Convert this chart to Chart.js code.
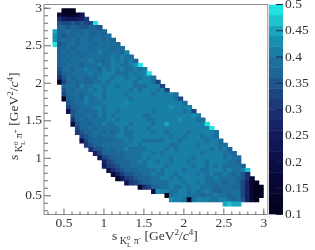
<!DOCTYPE html>
<html>
<head>
<meta charset="utf-8">
<script src="https://cdn.jsdelivr.net/npm/chart.js@4"></script>
<style>
    html, body { margin: 0; padding: 0; background: #fff; }
    #wrap { position: relative; width: 315px; height: 250px; overflow: hidden; }
    canvas { position: absolute; top: -20px; }
    .title { position: absolute; font: 13.5px "Liberation Serif", serif; color: #333; white-space: nowrap; line-height: 14px; }
    #yTitle { transform-origin: 0 0; transform: rotate(-90deg); }
    .s1 { font-size: 10px; position: relative; top: 4px; }
    .s2 { font-size: 7px; position: relative; }
    .up { top: -4px; }
    .dn { top: 3px; margin-left: -3.5px; }
    .sq { font-size: 9px; position: relative; top: -5px; }
</style>
</head>
<body>
<div id="wrap">
    <canvas id="dalitz" width="315" height="270" style="left:0"></canvas>
    <canvas id="zbar" width="53" height="270" style="left:262px"></canvas>
    <div class="title" id="xTitle" style="left:112px;top:229px">s<span class="s1">&nbsp;K<span class="s2 up">0</span><span class="s2 dn">L</span>&nbsp;π<span class="s2 up">-</span></span> [GeV<span class="sq">2</span>/<i>c</i><span class="sq">4</span>]</div>
    <div class="title" id="yTitle" style="left:7px;top:160px">s<span class="s1">&nbsp;K<span class="s2 up">0</span><span class="s2 dn">L</span>&nbsp;π<span class="s2 up">+</span></span> [GeV<span class="sq">2</span>/<i>c</i><span class="sq">4</span>]</div>
</div>
<script>
const binStart = 0.25;
const binWidth = 0.056;
const numBins = 50;

const tickValues = [0.5, 1, 1.5, 2, 2.5, 3];
const minorTicks = [0.3, 0.4, 0.6, 0.7, 0.8, 0.9, 1.1, 1.2, 1.3, 1.4, 1.6, 1.7, 1.8, 1.9, 2.1, 2.2, 2.3, 2.4, 2.6, 2.7, 2.8, 2.9, 3.0];
const zTicks = [0.1, 0.15, 0.2, 0.25, 0.3, 0.35, 0.4, 0.45, 0.5];

// 20 levels of the colour bar, bottom to top
const zLevels = [0.1, 0.12, 0.14, 0.16, 0.18, 0.2, 0.22, 0.24, 0.26, 0.28, 0.3, 0.32, 0.34, 0.36, 0.38, 0.4, 0.42, 0.44, 0.46, 0.48];
const zColors = ['#03031f', '#050527', '#06062f', '#080838', '#0a0b41', '#0c0f4a', '#0f1453', '#131a5c', '#172266', '#1a2e70',
    '#1c3a78', '#1d4680', '#1e558c', '#1c6596', '#1c6f9d', '#1a7fa6', '#1790b0', '#17a6bd', '#1bc4cf', '#1fe3e1'];

// first x bin of each row, top row first
const rowFirstBin = [4, 3, 3, 3, 3, 2, 2, 2, 2, 3, 3, 3, 3, 3, 3, 3, 3, 3, 4, 4, 4, 4, 5, 5, 5, 6, 6, 6, 7, 7, 8, 8, 9, 10, 11, 12, 13, 13, 14, 15, 16, 18, 21, 24, 27, 28, 40];

// estimated bin contents x100, same rows
const rowValues = [
    [10, 10, 10],
    [18, 14, 12, 12, 16, 22],
    [28, 25, 22, 22, 24, 26, 30],
    [35, 33, 33, 34, 32, 34, 33, 33, 49],
    [37, 37, 35, 37, 37, 35, 35, 37, 37, 35],
    [45, 37, 37, 39, 37, 37, 37, 39, 37, 37, 37, 37],
    [43, 37, 35, 37, 37, 39, 37, 39, 37, 37, 39, 37, 39],
    [43, 37, 39, 37, 39, 37, 39, 39, 37, 39, 39, 37, 39, 37],
    [49, 35, 37, 39, 39, 37, 39, 39, 39, 37, 39, 39, 39, 39, 37],
    [37, 37, 39, 37, 39, 39, 39, 37, 39, 39, 39, 39, 37, 39, 39],
    [37, 39, 37, 39, 37, 39, 39, 39, 39, 41, 39, 39, 39, 39, 37, 41],
    [37, 37, 39, 39, 39, 37, 39, 39, 39, 39, 39, 39, 41, 39, 41, 39, 39],
    [37, 39, 37, 39, 39, 39, 39, 41, 39, 39, 37, 39, 41, 39, 41, 39, 41, 37],
    [37, 37, 39, 39, 39, 37, 39, 39, 39, 41, 39, 39, 41, 41, 39, 39, 41, 43, 49],
    [35, 39, 39, 37, 39, 39, 41, 39, 39, 37, 41, 39, 41, 39, 41, 39, 39, 41, 39, 41],
    [33, 37, 37, 39, 39, 39, 39, 41, 39, 39, 41, 41, 41, 39, 39, 39, 41, 39, 41, 41, 49],
    [29, 35, 39, 37, 39, 39, 37, 39, 39, 41, 41, 41, 39, 41, 41, 39, 41, 41, 39, 41, 41, 39],
    [12, 33, 37, 39, 37, 39, 37, 37, 39, 39, 41, 39, 41, 41, 41, 41, 41, 39, 41, 41, 41, 39, 33],
    [37, 39, 39, 37, 41, 39, 39, 41, 41, 39, 41, 41, 39, 41, 41, 41, 39, 39, 39, 41, 41, 41, 33],
    [35, 39, 37, 39, 39, 39, 41, 39, 41, 39, 41, 41, 41, 41, 41, 39, 41, 39, 41, 41, 41, 39, 41, 33],
    [33, 37, 39, 39, 37, 39, 39, 41, 41, 39, 41, 41, 41, 41, 39, 41, 41, 41, 41, 41, 39, 41, 41, 41, 41, 39],
    [10, 37, 37, 39, 37, 41, 39, 39, 41, 39, 41, 41, 41, 41, 41, 39, 41, 41, 41, 41, 41, 41, 41, 41, 41, 39, 33],
    [35, 37, 39, 39, 41, 39, 39, 39, 41, 41, 41, 41, 41, 43, 41, 41, 41, 41, 41, 41, 41, 41, 41, 41, 41, 41, 39],
    [33, 37, 37, 39, 39, 39, 41, 41, 39, 41, 41, 41, 41, 41, 41, 41, 41, 41, 41, 41, 41, 41, 41, 43, 41, 41, 41, 41],
    [22, 35, 37, 39, 37, 39, 39, 41, 39, 41, 41, 39, 41, 41, 41, 41, 41, 41, 41, 39, 41, 41, 41, 41, 41, 41, 39, 41, 33],
    [35, 37, 37, 39, 39, 37, 41, 39, 41, 39, 41, 41, 41, 41, 41, 41, 39, 39, 41, 41, 41, 41, 41, 41, 41, 41, 41, 43, 41],
    [31, 37, 39, 37, 39, 39, 39, 39, 41, 41, 39, 41, 41, 41, 41, 41, 41, 39, 39, 41, 41, 41, 41, 41, 43, 41, 41, 41, 39, 39],
    [18, 35, 37, 37, 37, 39, 39, 41, 39, 39, 41, 41, 41, 39, 41, 41, 41, 41, 39, 41, 41, 45, 41, 41, 41, 41, 41, 41, 41, 41, 49],
    [33, 37, 37, 39, 37, 39, 39, 39, 39, 39, 41, 39, 41, 41, 41, 41, 39, 41, 41, 41, 41, 41, 41, 41, 41, 41, 41, 41, 41, 41, 49],
    [31, 35, 37, 37, 39, 39, 37, 39, 37, 39, 41, 39, 39, 41, 41, 41, 41, 39, 41, 41, 39, 41, 41, 41, 41, 39, 41, 41, 41, 41, 41, 39],
    [33, 35, 37, 39, 37, 39, 39, 39, 41, 41, 39, 39, 41, 41, 41, 41, 41, 41, 41, 41, 39, 41, 41, 39, 41, 41, 41, 39, 41, 41, 39],
    [20, 33, 37, 37, 37, 37, 37, 39, 39, 39, 41, 39, 41, 41, 39, 39, 39, 39, 39, 41, 41, 41, 39, 41, 41, 41, 41, 41, 39, 41, 41, 39],
    [31, 35, 37, 37, 39, 39, 39, 39, 39, 39, 41, 41, 39, 41, 41, 41, 41, 41, 41, 39, 39, 41, 41, 41, 41, 39, 41, 41, 41, 41, 39, 39],
    [29, 35, 35, 37, 39, 37, 39, 39, 41, 39, 39, 39, 39, 41, 41, 41, 41, 39, 41, 39, 41, 41, 41, 41, 41, 41, 41, 39, 41, 39, 41, 37],
    [27, 33, 37, 37, 37, 39, 37, 39, 39, 39, 39, 41, 41, 39, 41, 39, 41, 41, 41, 41, 41, 41, 41, 41, 39, 41, 41, 41, 41, 39, 39, 37],
    [25, 33, 35, 37, 37, 37, 39, 39, 39, 39, 41, 39, 41, 41, 41, 41, 39, 41, 41, 41, 41, 39, 41, 41, 41, 41, 41, 41, 39, 41, 39, 39],
    [27, 33, 35, 37, 37, 37, 39, 39, 41, 39, 41, 41, 39, 41, 41, 39, 41, 41, 41, 39, 41, 41, 41, 39, 41, 41, 41, 41, 39, 39, 37],
    [24, 31, 33, 35, 37, 37, 39, 39, 39, 39, 41, 41, 41, 41, 39, 41, 41, 41, 41, 41, 39, 41, 41, 39, 41, 39, 41, 39, 39, 39, 39, 37],
    [20, 29, 33, 35, 37, 37, 37, 39, 39, 39, 39, 41, 39, 41, 41, 41, 41, 39, 41, 41, 41, 39, 39, 41, 41, 41, 39, 41, 39, 39, 41, 47],
    [16, 27, 31, 35, 35, 37, 37, 39, 39, 41, 39, 39, 41, 41, 39, 41, 41, 41, 41, 39, 41, 39, 41, 39, 39, 41, 39, 37, 39, 35, 29],
    [14, 25, 31, 33, 35, 37, 37, 37, 39, 39, 41, 41, 39, 41, 39, 41, 41, 41, 41, 41, 39, 39, 41, 39, 39, 39, 39, 37, 35, 29, 16],
    [22, 31, 33, 35, 37, 37, 39, 39, 39, 39, 41, 41, 41, 39, 41, 41, 39, 41, 39, 39, 39, 39, 37, 39, 39, 37, 33, 27, 14, 10],
    [14, 29, 33, 37, 37, 39, 39, 41, 39, 39, 41, 39, 41, 41, 39, 39, 39, 37, 39, 39, 39, 37, 37, 33, 27, 14, 10, 10],
    [20, 43, 41, 41, 39, 39, 41, 41, 39, 41, 39, 39, 41, 39, 37, 37, 39, 39, 39, 39, 33, 27, 16, 10, 10],
    [10, 39, 41, 41, 41, 39, 39, 39, 37, 39, 39, 41, 39, 39, 37, 39, 39, 33, 27, 14, 10, 10],
    [43, 41, 41, 39, 12, 39, 41, 41, 41, 39, 39, 41, 41, 39, 37, 39, 35, 27, 16, 10],
    [45, 47, 45, 45]
];

function colorFor(z) {
    let color = zColors[0];
    zLevels.forEach(function(level, i) {
        if (z >= level) color = zColors[i];
    });
    return color;
}

var cells = [];
var cellColors = [];
rowValues.forEach(function(row, r) {
    var yBin = numBins - 2 - r;
    row.forEach(function(val, c) {
        var xBin = rowFirstBin[r] + c;
        cells.push({
            x: binStart + (xBin + 0.5) * binWidth,
            y: [binStart + yBin * binWidth, binStart + (yBin + 1) * binWidth]
        });
        cellColors.push(colorFor(val / 100));
    });
});

// ROOT style frame with ticks pointing inwards
const frameTicks = {
    id: 'frameTicks',
    afterDraw: function(chart) {
        var ctx = chart.ctx, area = chart.chartArea;
        var sx = chart.scales.x, sy = chart.scales.y;
        ctx.save();
        ctx.strokeStyle = '#8c8c8c';
        ctx.lineWidth = 1;
        ctx.strokeRect(area.left, area.top, area.right - area.left, area.bottom - area.top);
        ctx.strokeStyle = '#6e6e6e';
        ctx.beginPath();
        function xTick(v, len) {
            ctx.moveTo(sx.getPixelForValue(v), area.bottom);
            ctx.lineTo(sx.getPixelForValue(v), area.bottom - len);
        }
        function yTick(v, len) {
            ctx.moveTo(area.left, sy.getPixelForValue(v));
            ctx.lineTo(area.left + len, sy.getPixelForValue(v));
        }
        tickValues.forEach(function(v) { xTick(v, 6); yTick(v, 7); });
        minorTicks.forEach(function(v) { xTick(v, 3); yTick(v, 4); });
        ctx.stroke();
        ctx.restore();
    }
};

const zTickMarks = {
    id: 'zTickMarks',
    afterDraw: function(chart) {
        var ctx = chart.ctx, area = chart.chartArea, sy = chart.scales.y;
        ctx.save();
        ctx.strokeStyle = '#14284f';
        ctx.lineWidth = 1;
        ctx.beginPath();
        zTicks.forEach(function(v) {
            ctx.moveTo(area.right, sy.getPixelForValue(v));
            ctx.lineTo(area.right - 7, sy.getPixelForValue(v));
        });
        ctx.stroke();
        ctx.restore();
    }
};

function setTicks(values) {
    return function(scale) {
        scale.ticks = values.map(function(v) { return { value: v }; });
    };
}

function plainLabel(value) {
    return String(value);
}

const labelFont = { family: '"Liberation Serif", serif', size: 13.5 };

new Chart(document.getElementById('dalitz'), {
    type: 'bar',
    plugins: [frameTicks],
    data: {
        datasets: [{
            data: cells,
            backgroundColor: cellColors,
            borderWidth: 0,
            barThickness: 4.476,
            inflateAmount: 0.4,
            grouped: false
        }]
    },
    options: {
        responsive: false,
        animation: false,
        // the canvas starts 20px above the page so the top tick label has room
        layout: { padding: { top: 24.5, right: 47.2, left: 0, bottom: 0 } },
        plugins: { legend: { display: false }, tooltip: { enabled: false } },
        scales: {
            x: {
                type: 'linear',
                offset: false,
                min: 0.25,
                max: 3.05,
                grid: { display: false, drawTicks: false },
                border: { display: false },
                afterBuildTicks: setTicks(tickValues),
                afterFit: function(scale) { scale.height = 35.5; },
                ticks: { color: '#333', font: labelFont, padding: 1, maxRotation: 0, autoSkip: false, callback: plainLabel }
            },
            y: {
                type: 'linear',
                min: 0.25,
                max: 3.05,
                grid: { display: false, drawTicks: false },
                border: { display: false },
                afterBuildTicks: setTicks(tickValues),
                afterFit: function(scale) { scale.width = 44; },
                ticks: { color: '#333', font: labelFont, padding: 2, autoSkip: false, callback: plainLabel }
            }
        }
    }
});

new Chart(document.getElementById('zbar'), {
    type: 'bar',
    plugins: [zTickMarks],
    data: {
        labels: ['z'],
        datasets: [{
            data: zLevels.map(function(level) { return { x: 'z', y: [level, level + 0.02] }; }),
            backgroundColor: zColors,
            borderWidth: 0,
            categoryPercentage: 1,
            barPercentage: 1,
            inflateAmount: 0.33,
            grouped: false
        }]
    },
    options: {
        responsive: false,
        animation: false,
        layout: { padding: { top: 24.5, left: 7, bottom: 35.5, right: 0 } },
        plugins: { legend: { display: false }, tooltip: { enabled: false } },
        scales: {
            x: { display: false },
            y: {
                type: 'linear',
                position: 'right',
                min: 0.1,
                max: 0.5,
                grid: { display: false, drawTicks: false },
                border: { display: false },
                afterBuildTicks: setTicks(zTicks),
                afterFit: function(scale) { scale.width = 32; },
                ticks: { color: '#333', font: labelFont, padding: 2, autoSkip: false, callback: plainLabel }
            }
        }
    }
});
</script>
</body>
</html>
